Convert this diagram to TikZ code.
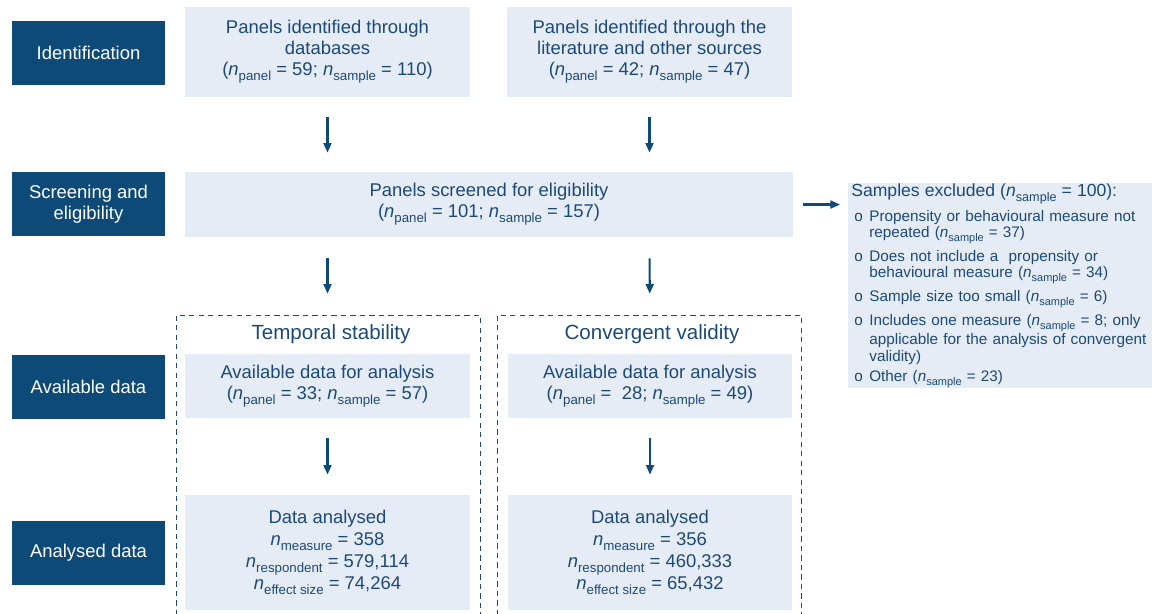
\documentclass[tikz,border=0pt]{standalone}
\usepackage{fontspec}
\setmainfont{Liberation Sans}
\usetikzlibrary{positioning}
\usetikzlibrary{arrows.meta}
\definecolor{stagecol}{HTML}{0D4A77}
\definecolor{boxcol}{HTML}{E6ECF6}
\definecolor{txtcol}{HTML}{1B4A78}
\newcommand{\nsub}[1]{\textit{n}\raisebox{-0.5ex}{\scalebox{0.72}{#1}}}
\newcommand{\exitem}[1]{\par\vspace{2.6pt}\noindent\makebox[0.36cm][l]{\hspace{0.06cm}o}\parbox[t]{5.7cm}{#1}}

\tikzset{
  stage/.style={fill=stagecol, text=white, minimum width=3.06cm, minimum height=1.28cm,
    align=center, inner sep=0pt, font=\fontsize{10.5}{12}\selectfont},
  panelbox/.style={fill=boxcol, text=txtcol, minimum width=5.7cm, align=center,
    inner sep=0pt, font=\fontsize{10.5}{12}\selectfont},
  arr/.style={-{Triangle[length=5.5pt,width=4.5pt]}, stagecol, line width=1.2pt},
  dashbox/.style={txtcol, dash pattern=on 3pt off 2.4pt, line width=0.55pt}
}

\begin{document}
\begin{tikzpicture}[x=0.02cm, y=-0.02cm]

\useasboundingbox (0,0) rectangle (1155,613);

% stages on the left
\node[stage] (ident) at (88.5,52.5) {Identification};
\node[stage] (screening) at (88.5,204) {Screening and\\eligibility};
\node[stage] (avail) at (88.5,387) {Available data};
\node[stage] (analysed) at (88.5,552.5) {Analysed data};

% identification
\node[panelbox, minimum height=1.8cm] (db) at (327.5,52)
  {Panels identified through\\databases\\(\nsub{panel} = 59; \nsub{sample} = 110)};
\node[panelbox, minimum height=1.8cm] (lit) at (649.5,52)
  {Panels identified through the\\literature and other sources\\(\nsub{panel} = 42; \nsub{sample} = 47)};

% screening
\node[panelbox, minimum width=12.16cm, minimum height=1.3cm] (screen) at (489,204.5)
  {Panels screened for eligibility\\(\nsub{panel} = 101; \nsub{sample} = 157)};

\node[fill=boxcol, text=txtcol, anchor=north west, text width=5.96cm, minimum width=6.08cm,
  minimum height=4.1cm, inner xsep=0.06cm, inner ysep=0pt, align=left,
  font=\fontsize{8.7}{9.4}\selectfont] (excl) at (848,183)
  {{\fontsize{10}{11}\selectfont Samples excluded (\nsub{sample} = 100):}
   \exitem{Propensity or behavioural measure not\\repeated (\nsub{sample} = 37)}
   \exitem{Does not include a\ \ propensity or\\behavioural measure (\nsub{sample} = 34)}
   \exitem{Sample size too small (\nsub{sample} = 6)}
   \exitem{Includes one measure (\nsub{sample} = 8; only\\\mbox{applicable for the analysis of convergent}\\validity)}
   \exitem{Other (\nsub{sample} = 23)}};

% the two analyses
\draw[dashbox] (176,615) -- (176,315) -- (480,315) -- (480,615);
\draw[dashbox] (497,615) -- (497,315) -- (801,315) -- (801,615);
\node[text=txtcol, font=\fontsize{11.7}{14}\selectfont] (temporal) at (331,334) {Temporal stability};
\node[text=txtcol, font=\fontsize{11.7}{14}\selectfont] (convergent) at (652,334) {Convergent validity};

\node[panelbox, minimum height=1.28cm] (availL) at (327.5,386)
  {Available data for analysis\\(\nsub{panel} = 33; \nsub{sample} = 57)};
\node[panelbox, minimum height=1.28cm] (availR) at (650,386)
  {Available data for analysis\\(\nsub{panel} =\ \ 28; \nsub{sample} = 49)};

\node[panelbox, minimum height=2.3cm, font=\fontsize{10.5}{12.5}\selectfont] (doneL) at (327.5,552.5)
  {Data analysed\\\nsub{measure} = 358\\\nsub{respondent} = 579,114\\\nsub{effect size} = 74,264};
\node[panelbox, minimum height=2.3cm, font=\fontsize{10.5}{12.5}\selectfont] (doneR) at (650,552.5)
  {Data analysed\\\nsub{measure} = 356\\\nsub{respondent} = 460,333\\\nsub{effect size} = 65,432};

% arrows
\draw[arr, shorten <=0.4cm, shorten >=0.38cm] (db.south) -- (db.south |- screen.north);
\draw[arr, shorten <=0.4cm, shorten >=0.38cm] (lit.south) -- (lit.south |- screen.north);
\draw[arr, shorten <=0.42cm, shorten >=1.2cm] (db.south |- screen.south) -- (availL.north);
\draw[arr, shorten <=0.42cm, shorten >=1.2cm] (lit.south |- screen.south) -- (availR.north);
\draw[arr, shorten <=0.4cm, shorten >=0.4cm] (availL.south) -- (doneL.north);
\draw[arr, shorten <=0.4cm, shorten >=0.4cm] (availR.south) -- (doneR.north);
\draw[arr, shorten <=0.2cm, shorten >=0.16cm] (screen.east) -- (screen.east -| excl.west);

\end{tikzpicture}
\end{document}
